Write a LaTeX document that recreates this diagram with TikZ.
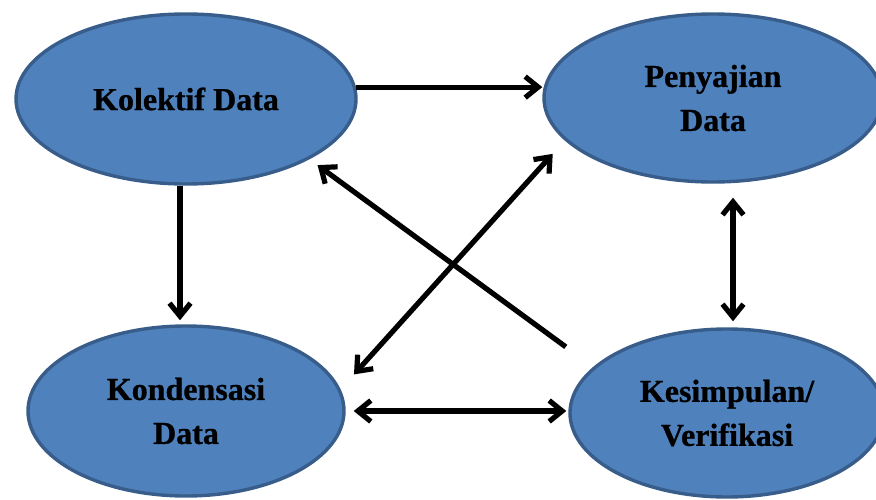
\documentclass[tikz,border=0pt]{standalone}
\usepackage{fontspec}
\setmainfont{Liberation Serif}[BoldFeatures={FakeBold=0.8}]
\usetikzlibrary{arrows.meta,shapes.geometric}
\definecolor{stagefill}{HTML}{4F81BD}
\definecolor{stageline}{HTML}{385D8A}
\tikzset{
  stage/.style={ellipse, draw=stageline, fill=stagefill, line width=3.4pt,
    inner sep=0pt, align=center, font=\bfseries\fontsize{32}{44}\selectfont},
  barb/.tip={Straight Barb[length=13pt,width=21pt]},
  flow/.style={line width=5.2pt, -barb},
  twoway/.style={line width=5.2pt, barb-barb}
}
\begin{document}
\begin{tikzpicture}[x=1pt,y=-1pt]
\useasboundingbox (0,0) rectangle (876,500);

% the four stages of the analysis
\node[stage, minimum width=340pt, minimum height=170pt] (kol) at (186,99) {Kolektif Data};
\node[stage, minimum width=338pt, minimum height=168pt] (pen) at (713,98) {Penyajian\\Data};
\node[stage, minimum width=316pt, minimum height=170pt] (kon) at (186,411) {Kondensasi\\Data};
\node[stage, minimum width=314pt, minimum height=168pt] (kes) at (727,413) {Kesimpulan/\\Verifikasi};

% connectors
\draw[flow] (kol.4.7) -- (kol.4.7 -| pen.west);
\draw[flow, shorten >=4pt] ([xshift=-6pt]kol.south) -- ([xshift=-6pt]kon.north);
\draw[twoway, shorten <=14pt, shorten >=6pt] ([xshift=20pt]pen.south) -- ([xshift=6pt]kes.north);
\draw[twoway, shorten <=8pt, shorten >=2pt] (kon.east) -- (kon.east -| kes.west);
\draw[flow, shorten <=34pt, shorten >=10pt] (kes.161.6) -- (kol.334.6);
\draw[twoway, shorten <=20pt, shorten >=18pt] (kon.8.5) -- (pen.196.8);
\end{tikzpicture}
\end{document}
